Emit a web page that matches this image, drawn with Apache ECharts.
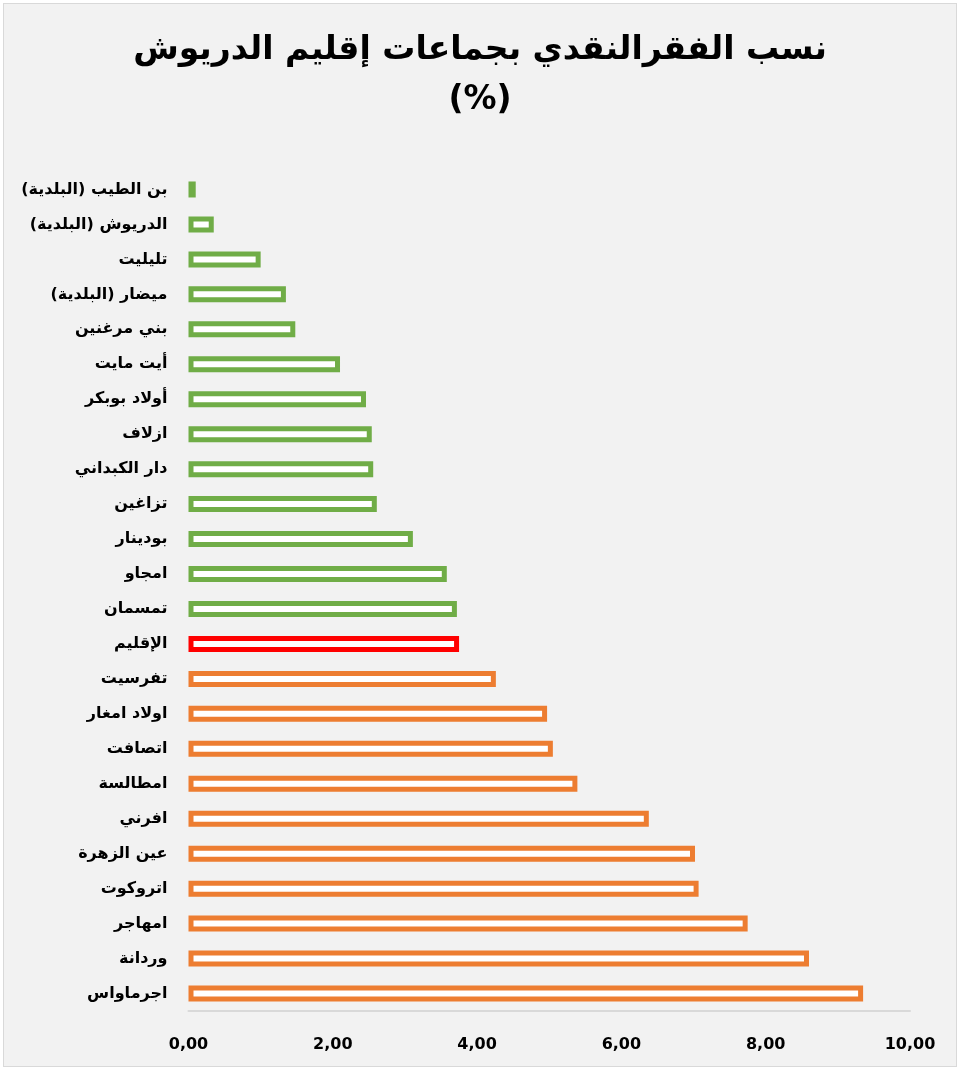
<!DOCTYPE html>
<html>
<head>
<meta charset="utf-8">
<script src="https://cdn.jsdelivr.net/npm/echarts@6/dist/echarts.min.js"></script>
<style>
    html, body { margin: 0; padding: 0; background: #ffffff; }
    #chart { position: absolute; left: 3px; top: 3px; width: 952px; height: 1062px; border: 1px solid #d9d9d9; background: #f2f2f2; }
</style>
</head>
<body>
<div id="chart"></div>
<script>
// 数据
var communes = ['بن الطيب (البلدية)', 'الدريوش (البلدية)', 'تليليت', 'ميضار (البلدية)', 'بني مرغنين', 'أيت مايت', 'أولاد بوبكر', 'ازلاف', 'دار الكبداني', 'تزاغين', 'بودينار', 'امجاو', 'تمسمان', 'الإقليم', 'تفرسيت', 'اولاد امغار', 'اتصافت', 'امطالسة', 'افرني', 'عين الزهرة', 'اتروكوت', 'امهاجر', 'وردانة', 'اجرماواس']
var povertyRates = [0.10, 0.35, 1.00, 1.35, 1.48, 2.10, 2.46, 2.54, 2.56, 2.61, 3.11, 3.58, 3.72, 3.75, 4.26, 4.97, 5.05, 5.39, 6.38, 7.02, 7.07, 7.75, 8.60, 9.35]
var provinceName = 'الإقليم'
var axisTicks = [0, 2, 4, 6, 8, 10]

// 颜色
var green = '#70ad47'
var orange = '#ed7d31'
var red = '#ff0000'

var provinceValue = povertyRates[communes.indexOf(provinceName)]

function barColor(name, v) {
    if (name === provinceName) return red
    return v < provinceValue ? green : orange
}

var font = "'DejaVu Sans', 'Liberation Sans', sans-serif"

var option = {
    backgroundColor: '#f2f2f2',
    animation: false,
    title: {
        text: 'نسب الفقرالنقدي بجماعات إقليم الدريوش\n(%)',
        left: 'center',
        top: 16,
        textStyle: {
            fontFamily: font,
            fontSize: 33,
            fontWeight: 'bold',
            color: '#000',
            lineHeight: 50
        }
    },
    grid: {
        left: 184.5,
        right: 46,
        top: 168,
        bottom: 55
    },
    xAxis: {
        type: 'value',
        min: axisTicks[0],
        max: axisTicks[axisTicks.length - 1],
        interval: axisTicks[1] - axisTicks[0],
        splitLine: { show: false },
        axisLine: { show: true, lineStyle: { color: '#d9d9d9', width: 2 } },
        axisTick: { show: false },
        axisLabel: {
            margin: 26,
            fontFamily: font,
            fontSize: 16,
            fontWeight: 'bold',
            color: '#000',
            formatter: function (v) {
                return v.toFixed(2).replace('.', ',')
            }
        }
    },
    yAxis: {
        type: 'category',
        inverse: true,
        data: communes,
        axisLine: { show: false },
        axisTick: { show: false },
        axisLabel: {
            margin: 21,
            fontFamily: font,
            fontSize: 16,
            fontWeight: 'bold',
            color: '#000'
        }
    },
    series: [{
        type: 'bar',
        barWidth: 16,
        data: povertyRates.map(function (v, i) {
            return {
                value: v,
                itemStyle: {
                    color: '#ffffff',
                    borderColor: barColor(communes[i], v),
                    borderWidth: 5
                }
            }
        })
    }]
}

var chart = echarts.init(document.getElementById('chart'))
chart.setOption(option)
</script>
</body>
</html>
